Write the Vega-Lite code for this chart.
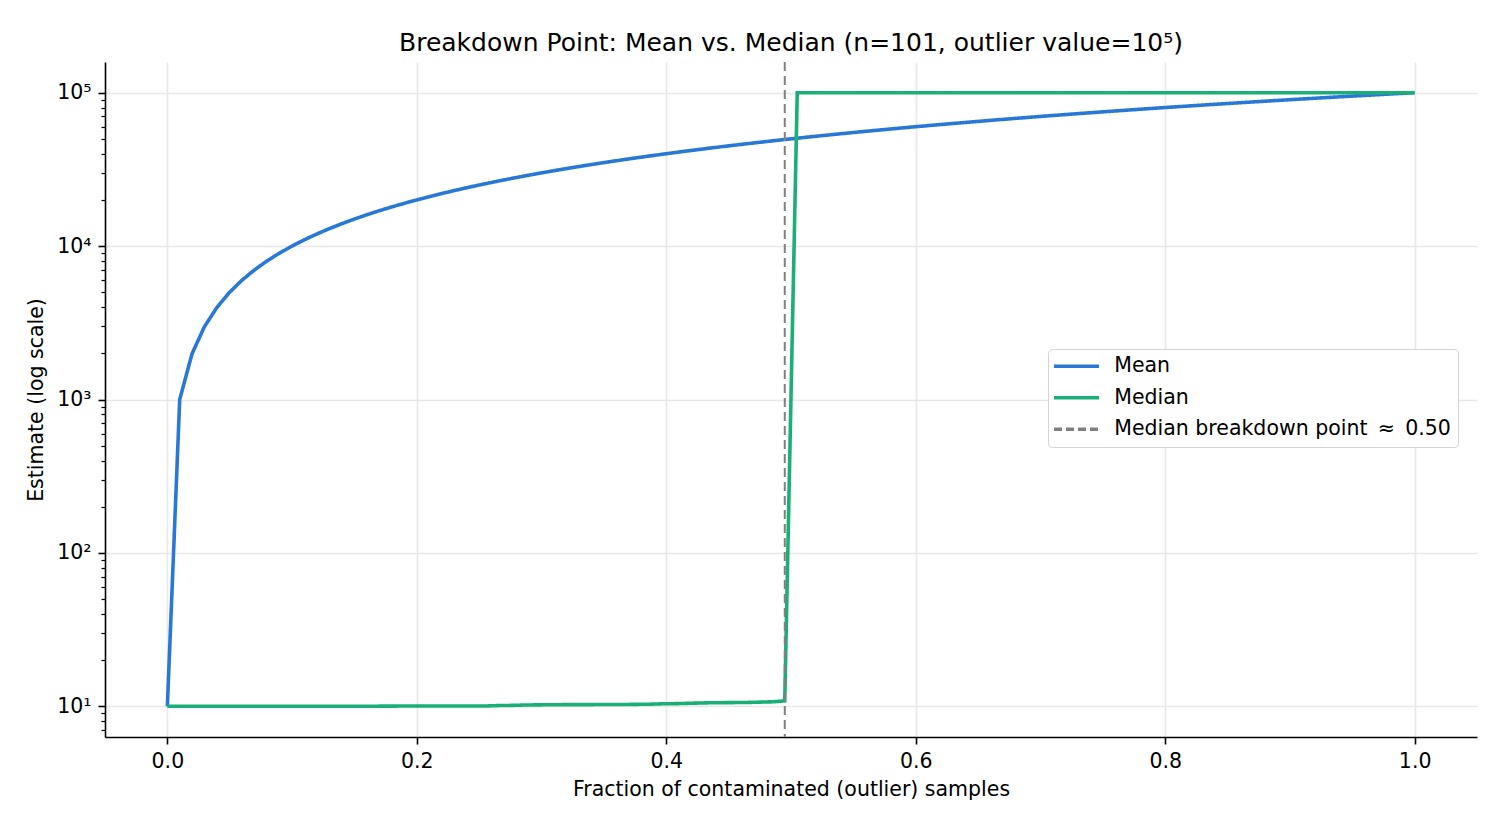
{
  "$schema": "https://vega.github.io/schema/vega-lite/v6.json",
  "width": 1372,
  "height": 675,
  "autosize": {"type": "none"},
  "padding": {"left": 105, "top": 62, "right": 23, "bottom": 88},
  "background": "white",
  "config": {
    "font": "DejaVu Sans",
    "view": {"stroke": null},
    "axis": {
      "labelFont": "DejaVu Sans",
      "titleFont": "DejaVu Sans",
      "labelFontSize": 20.5,
      "titleFontSize": 20.5,
      "titleFontWeight": "normal",
      "labelColor": "black",
      "titleColor": "black",
      "domainColor": "black",
      "domainWidth": 1.6,
      "tickColor": "black",
      "tickWidth": 1.6,
      "tickSize": 7,
      "labelPadding": 7,
      "gridColor": "#e8e8e8",
      "gridWidth": 1.6
    },
    "legend": {
      "orient": "none",
      "legendX": 943,
      "legendY": 287,
      "title": null,
      "symbolType": "M-2,0L6,0",
      "symbolSize": 126.5,
      "symbolStrokeWidth": 3.5,
      "labelFont": "DejaVu Sans",
      "labelFontSize": 20.5,
      "labelColor": "black",
      "labelOffset": 38.75,
      "labelLimit": 0,
      "rowPadding": 10.5,
      "padding": 7,
      "strokeColor": "#d4d4d4",
      "fillColor": "white",
      "cornerRadius": 4
    }
  },
  "title": {
    "text": "Breakdown Point: Mean vs. Median (n=101, outlier value=10⁵)",
    "font": "DejaVu Sans",
    "fontSize": 25,
    "fontWeight": "normal",
    "color": "black",
    "anchor": "middle",
    "baseline": "alphabetic",
    "offset": -15
  },
  "datasets": {
    "curves": [
      {"f": 0, "Mean": 10, "Median": 10.0},
      {"f": 0.0099, "Mean": 1000, "Median": 10.0},
      {"f": 0.0198, "Mean": 1990, "Median": 10.0},
      {"f": 0.0297, "Mean": 2980, "Median": 10.0},
      {"f": 0.0396, "Mean": 3970, "Median": 10.01},
      {"f": 0.0495, "Mean": 4960, "Median": 10.01},
      {"f": 0.0594, "Mean": 5950, "Median": 10.01},
      {"f": 0.0693, "Mean": 6940, "Median": 10.01},
      {"f": 0.0792, "Mean": 7930, "Median": 10.01},
      {"f": 0.0891, "Mean": 8920, "Median": 10.01},
      {"f": 0.099, "Mean": 9910, "Median": 10.01},
      {"f": 0.1089, "Mean": 10900, "Median": 10.01},
      {"f": 0.1188, "Mean": 11890, "Median": 10.01},
      {"f": 0.1287, "Mean": 12880, "Median": 10.01},
      {"f": 0.1386, "Mean": 13870, "Median": 10.01},
      {"f": 0.1485, "Mean": 14860, "Median": 10.01},
      {"f": 0.1584, "Mean": 15850, "Median": 10.01},
      {"f": 0.1683, "Mean": 16840, "Median": 10.02},
      {"f": 0.1782, "Mean": 17830, "Median": 10.03},
      {"f": 0.1881, "Mean": 18820, "Median": 10.04},
      {"f": 0.198, "Mean": 19810, "Median": 10.04},
      {"f": 0.2079, "Mean": 20800, "Median": 10.04},
      {"f": 0.2178, "Mean": 21790, "Median": 10.04},
      {"f": 0.2277, "Mean": 22780, "Median": 10.04},
      {"f": 0.2376, "Mean": 23770, "Median": 10.04},
      {"f": 0.2475, "Mean": 24760, "Median": 10.05},
      {"f": 0.2574, "Mean": 25750, "Median": 10.06},
      {"f": 0.2673, "Mean": 26740, "Median": 10.12},
      {"f": 0.2772, "Mean": 27730, "Median": 10.14},
      {"f": 0.2871, "Mean": 28720, "Median": 10.2},
      {"f": 0.297, "Mean": 29710, "Median": 10.22},
      {"f": 0.3069, "Mean": 30700, "Median": 10.24},
      {"f": 0.3168, "Mean": 31690, "Median": 10.25},
      {"f": 0.3267, "Mean": 32680, "Median": 10.26},
      {"f": 0.3366, "Mean": 33670, "Median": 10.26},
      {"f": 0.3465, "Mean": 34660, "Median": 10.27},
      {"f": 0.3564, "Mean": 35650, "Median": 10.27},
      {"f": 0.3663, "Mean": 36640, "Median": 10.28},
      {"f": 0.3762, "Mean": 37630, "Median": 10.3},
      {"f": 0.3861, "Mean": 38620, "Median": 10.32},
      {"f": 0.396, "Mean": 39610, "Median": 10.38},
      {"f": 0.4059, "Mean": 40600, "Median": 10.4},
      {"f": 0.4158, "Mean": 41590, "Median": 10.45},
      {"f": 0.4257, "Mean": 42580, "Median": 10.5},
      {"f": 0.4356, "Mean": 43570, "Median": 10.55},
      {"f": 0.4455, "Mean": 44560, "Median": 10.56},
      {"f": 0.4554, "Mean": 45550, "Median": 10.58},
      {"f": 0.4653, "Mean": 46540, "Median": 10.6},
      {"f": 0.4752, "Mean": 47530, "Median": 10.65},
      {"f": 0.4851, "Mean": 48520, "Median": 10.7},
      {"f": 0.495, "Mean": 49510, "Median": 10.85},
      {"f": 0.505, "Mean": 50500, "Median": 100000},
      {"f": 0.5149, "Mean": 51490, "Median": 100000},
      {"f": 0.5248, "Mean": 52480, "Median": 100000},
      {"f": 0.5347, "Mean": 53470, "Median": 100000},
      {"f": 0.5446, "Mean": 54460, "Median": 100000},
      {"f": 0.5545, "Mean": 55450, "Median": 100000},
      {"f": 0.5644, "Mean": 56440, "Median": 100000},
      {"f": 0.5743, "Mean": 57430, "Median": 100000},
      {"f": 0.5842, "Mean": 58420, "Median": 100000},
      {"f": 0.5941, "Mean": 59410, "Median": 100000},
      {"f": 0.604, "Mean": 60400, "Median": 100000},
      {"f": 0.6139, "Mean": 61390, "Median": 100000},
      {"f": 0.6238, "Mean": 62380, "Median": 100000},
      {"f": 0.6337, "Mean": 63370, "Median": 100000},
      {"f": 0.6436, "Mean": 64360, "Median": 100000},
      {"f": 0.6535, "Mean": 65350, "Median": 100000},
      {"f": 0.6634, "Mean": 66340, "Median": 100000},
      {"f": 0.6733, "Mean": 67330, "Median": 100000},
      {"f": 0.6832, "Mean": 68320, "Median": 100000},
      {"f": 0.6931, "Mean": 69310, "Median": 100000},
      {"f": 0.703, "Mean": 70300, "Median": 100000},
      {"f": 0.7129, "Mean": 71290, "Median": 100000},
      {"f": 0.7228, "Mean": 72280, "Median": 100000},
      {"f": 0.7327, "Mean": 73270, "Median": 100000},
      {"f": 0.7426, "Mean": 74260, "Median": 100000},
      {"f": 0.7525, "Mean": 75250, "Median": 100000},
      {"f": 0.7624, "Mean": 76240, "Median": 100000},
      {"f": 0.7723, "Mean": 77230, "Median": 100000},
      {"f": 0.7822, "Mean": 78220, "Median": 100000},
      {"f": 0.7921, "Mean": 79210, "Median": 100000},
      {"f": 0.802, "Mean": 80200, "Median": 100000},
      {"f": 0.8119, "Mean": 81190, "Median": 100000},
      {"f": 0.8218, "Mean": 82180, "Median": 100000},
      {"f": 0.8317, "Mean": 83170, "Median": 100000},
      {"f": 0.8416, "Mean": 84160, "Median": 100000},
      {"f": 0.8515, "Mean": 85150, "Median": 100000},
      {"f": 0.8614, "Mean": 86140, "Median": 100000},
      {"f": 0.8713, "Mean": 87130, "Median": 100000},
      {"f": 0.8812, "Mean": 88120, "Median": 100000},
      {"f": 0.8911, "Mean": 89110, "Median": 100000},
      {"f": 0.901, "Mean": 90100, "Median": 100000},
      {"f": 0.9109, "Mean": 91090, "Median": 100000},
      {"f": 0.9208, "Mean": 92080, "Median": 100000},
      {"f": 0.9307, "Mean": 93070, "Median": 100000},
      {"f": 0.9406, "Mean": 94060, "Median": 100000},
      {"f": 0.9505, "Mean": 95050, "Median": 100000},
      {"f": 0.9604, "Mean": 96040, "Median": 100000},
      {"f": 0.9703, "Mean": 97030, "Median": 100000},
      {"f": 0.9802, "Mean": 98020, "Median": 100000},
      {"f": 0.9901, "Mean": 99010, "Median": 100000},
      {"f": 1, "Mean": 100000, "Median": 100000}
    ],
    "breakdown": [
      {"f": 0.495, "series": "Median breakdown point\u2002≈\u20020.50"}
    ],
    "anchor": [{"v": 10}]
  },
  "layer": [
    {
      "data": {"name": "curves"},
      "transform": [{"fold": ["Mean", "Median"], "as": ["series", "v"]}],
      "mark": {"type": "line", "strokeWidth": 3.6, "clip": true},
      "encoding": {
        "x": {
          "field": "f",
          "type": "quantitative",
          "scale": {"domain": [-0.05, 1.05], "nice": false, "zero": false},
          "axis": {
            "values": [0, 0.2, 0.4, 0.6, 0.8, 1.0],
            "format": ".1f",
            "title": "Fraction of contaminated (outlier) samples",
            "grid": true,
            "titlePadding": 8
          }
        },
        "y": {
          "field": "v",
          "type": "quantitative",
          "scale": {"type": "log", "domain": [6.3096, 158489], "nice": false},
          "axis": {
            "orient": "left",
            "values": [10, 100, 1000, 10000, 100000],
            "labelExpr": "datum.value == 10 ? '10¹' : datum.value == 100 ? '10²' : datum.value == 1000 ? '10³' : datum.value == 10000 ? '10⁴' : '10⁵'",
            "title": "Estimate (log scale)",
            "grid": true,
            "titlePadding": 10
          }
        },
        "order": {"field": "f", "type": "quantitative"},
        "color": {
          "field": "series",
          "type": "nominal",
          "scale": {
            "domain": ["Mean", "Median", "Median breakdown point\u2002≈\u20020.50"],
            "range": ["#2a78d6", "#1aaf77", "#808080"]
          }
        },
        "strokeDash": {
          "field": "series",
          "type": "nominal",
          "scale": {
            "domain": ["Mean", "Median", "Median breakdown point\u2002≈\u20020.50"],
            "range": [[1, 0], [1, 0], [8, 4]]
          }
        }
      }
    },
    {
      "data": {"name": "breakdown"},
      "mark": {"type": "rule", "strokeWidth": 2, "strokeDash": [9, 5]},
      "encoding": {
        "x": {"field": "f", "type": "quantitative", "title": "Fraction of contaminated (outlier) samples"},
        "color": {"field": "series", "type": "nominal"}
      }
    },
    {
      "data": {"name": "anchor"},
      "mark": {"type": "point", "opacity": 0},
      "encoding": {
        "y": {
          "field": "v",
          "type": "quantitative",
          "axis": {
            "orient": "left",
            "values": [7, 8, 9, 20, 30, 40, 50, 60, 70, 80, 90, 200, 300, 400, 500, 600, 700, 800, 900, 2000, 3000, 4000, 5000, 6000, 7000, 8000, 9000, 20000, 30000, 40000, 50000, 60000, 70000, 80000, 90000],
            "labels": false,
            "domain": false,
            "grid": false,
            "title": null,
            "tickSize": 4,
            "tickWidth": 1.2
          }
        }
      }
    }
  ],
  "resolve": {"axis": {"y": "independent"}}
}
